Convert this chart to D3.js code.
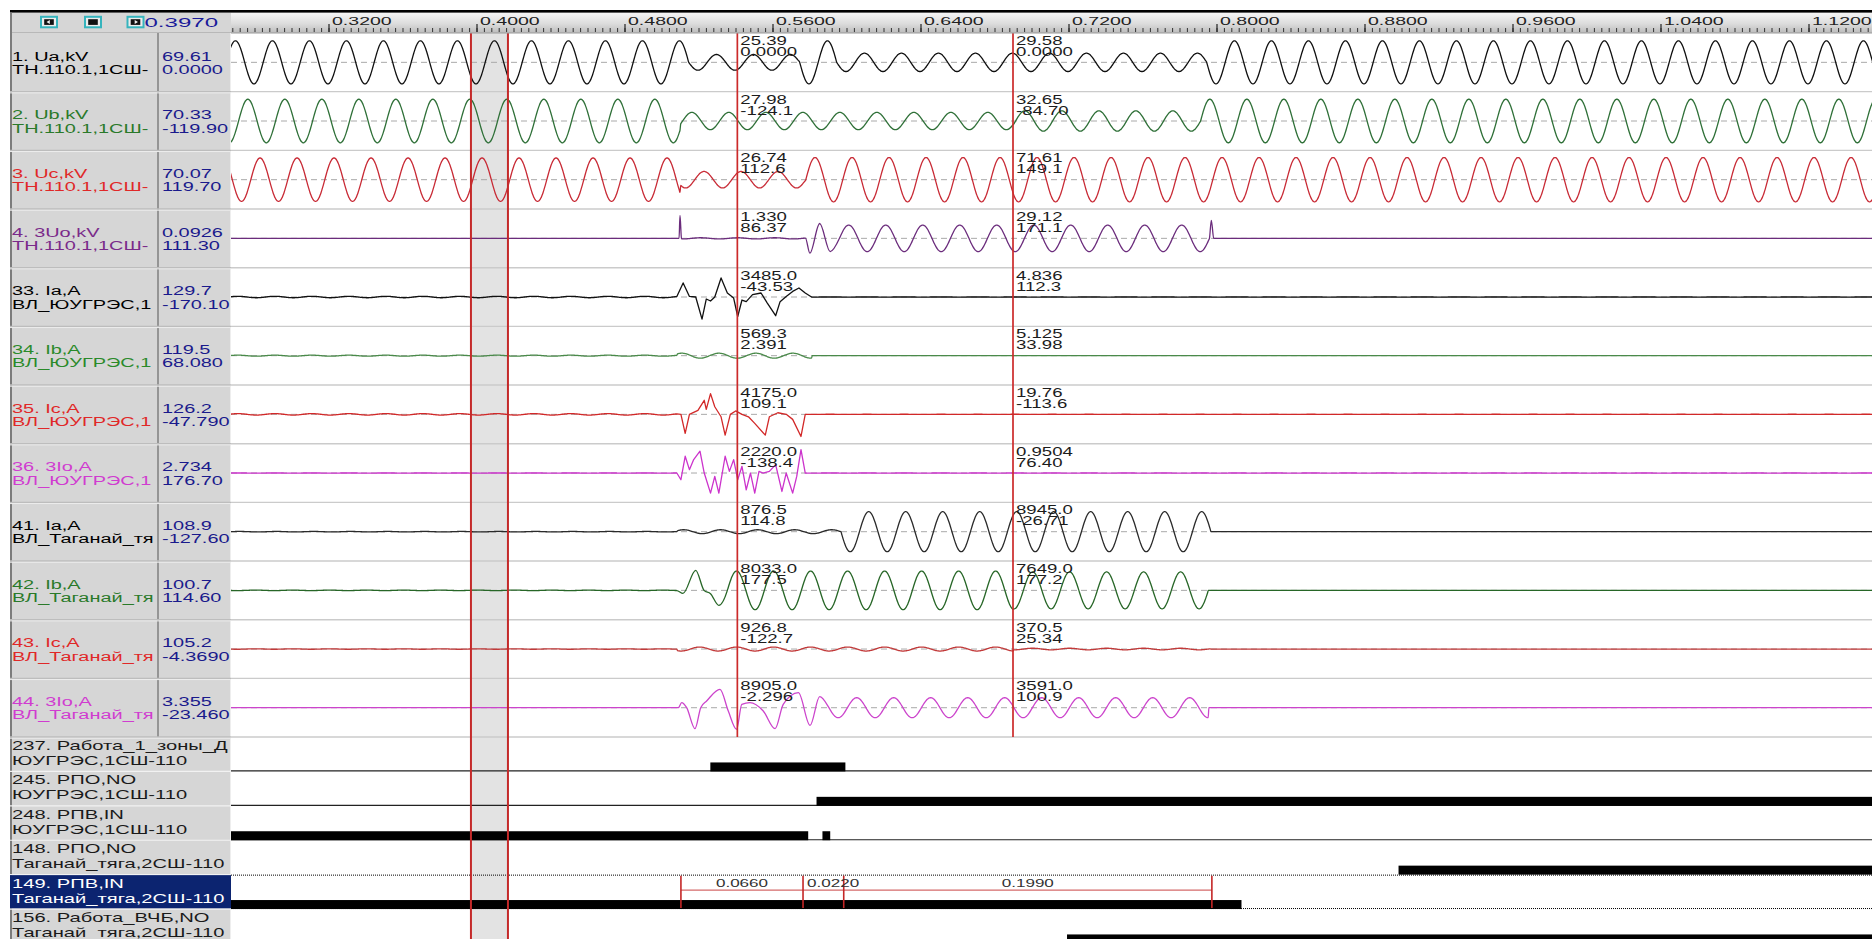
<!DOCTYPE html>
<html><head><meta charset="utf-8">
<script src="https://cdn.jsdelivr.net/npm/d3@7"></script>
<style>
html,body{margin:0;padding:0;background:#fff;overflow:hidden}
svg{display:block}
text{font-family:"Liberation Sans",Arial,sans-serif}
</style></head><body>
<svg id="osc" width="1872" height="939"></svg>
<script>
// ---------- time axis (seconds) ----------
const tickValues = [0.32, 0.40, 0.48, 0.56, 0.64, 0.72, 0.80, 0.88, 0.96, 1.04, 1.12];
const bandCursor = [0.3970, 0.4170];          // one-period RMS window
const cursorTimes = [0.5410, 0.6900];          // two measurement cursors
const measureMarks = [0.5105, 0.5765, 0.5985, 0.7975]; // interval markers on channel 149

// ---------- analog channels ----------
const channelNames = ["1. Ua,kV", "2. Ub,kV", "3. Uc,kV", "4. 3Uo,kV",
  "33. Ia,A", "34. Ib,A", "35. Ic,A", "36. 3Io,A",
  "41. Ia,A", "42. Ib,A", "43. Ic,A", "44. 3Io,A"];
const channelFeeders = ["ТН.110.1,1СШ-110", "ТН.110.1,1СШ-110", "ТН.110.1,1СШ-110", "ТН.110.1,1СШ-110",
  "ВЛ_ЮУГРЭС,1СШ-110", "ВЛ_ЮУГРЭС,1СШ-110", "ВЛ_ЮУГРЭС,1СШ-110", "ВЛ_ЮУГРЭС,1СШ-110",
  "ВЛ_Таганай_тяга,2СШ-110", "ВЛ_Таганай_тяга,2СШ-110", "ВЛ_Таганай_тяга,2СШ-110", "ВЛ_Таганай_тяга,2СШ-110"];
const panelRms   = ["69.61", "70.33", "70.07", "0.0926", "129.7", "119.5", "126.2", "2.734", "108.9", "100.7", "105.2", "3.355"];
const panelAngle = ["0.00000", "-119.90", "119.70", "111.30", "-170.10", "68.080", "-47.790", "176.70", "-127.60", "114.60", "-4.3690", "-23.460"];
const cursor1Rms   = ["25.39", "27.98", "26.74", "1.330", "3485.0", "569.3", "4175.0", "2220.0", "876.5", "8033.0", "926.8", "8905.0"];
const cursor1Angle = ["0.0000", "-124.1", "112.6", "86.37", "-43.53", "2.391", "109.1", "-138.4", "114.8", "177.5", "-122.7", "-2.296"];
const cursor2Rms   = ["29.58", "32.65", "71.61", "29.12", "4.836", "5.125", "19.76", "0.9504", "8945.0", "7649.0", "370.5", "3591.0"];
const cursor2Angle = ["0.0000", "-84.70", "149.1", "171.1", "112.3", "33.98", "-113.6", "76.40", "-26.71", "177.2", "25.34", "100.9"];

// vertical range of each channel (+/- full scale, kV or A)
const channelRange = [134, 134, 134, 91, 7300, 9400, 7300, 3500, 18500, 17200, 19200, 14900];
// time of a positive 50 Hz crest for each channel (phase reference)
const crestTime = [0.4897, 0.4964, 0.5030, 0.6212, 0.5310, 0.5310, 0.5310, 0.5310, 0.6120, 0.5606, 0.5406, 0.6055];

// steady 50 Hz stretches: [start, end, RMS]
const uaSegments  = [[0.26, 0.5147, panelRms[0]], [0.5147, 0.5747, cursor1Rms[0]], [0.5747, 0.5947, panelRms[0]], [0.5947, 0.7947, cursor2Rms[0]], [0.7947, 1.16, panelRms[0]]];
const ubSegments  = [[0.26, 0.5100, panelRms[1]], [0.5100, 0.6900, cursor1Rms[1]], [0.6900, 0.7914, cursor2Rms[1]], [0.7914, 1.16, panelRms[1]]];
const ucSegments  = [[0.26, 0.5100, panelRms[2]], [0.5100, 0.5780, cursor1Rms[2]], [0.5780, 1.16, cursor2Rms[2]]];
const uoSegments  = [[0.26, 0.5095, panelRms[3]], [0.5108, 0.5778, cursor1Rms[3]], [0.5962, 0.7962, cursor2Rms[3]], [0.7985, 1.16, panelRms[3]]];
const ia33Segments = [[0.26, 0.5083, panelRms[4]], [0.5811, 1.16, cursor2Rms[4]]];
const ib34Segments = [[0.26, 0.5083, panelRms[5]], [0.5083, 0.5811, cursor1Rms[5]], [0.5811, 1.16, cursor2Rms[5]]];
const ic35Segments = [[0.26, 0.5083, panelRms[6]], [0.5777, 1.16, cursor2Rms[6]]];
const io36Segments = [[0.26, 0.5083, panelRms[7]], [0.5777, 1.16, cursor2Rms[7]]];
const ia41Segments = [[0.26, 0.5083, panelRms[8]], [0.5083, 0.5970, cursor1Rms[8]], [0.5970, 0.7970, cursor2Rms[8]], [0.7970, 1.16, "0"]];
const ib42Segments = [[0.26, 0.5083, panelRms[9]], [0.5356, 0.6900, cursor1Rms[9]], [0.6900, 0.7956, cursor2Rms[9]], [0.7956, 1.16, "0"]];
const ic43Segments = [[0.26, 0.5083, panelRms[10]], [0.5083, 0.6900, cursor1Rms[10]], [0.6900, 0.7965, cursor2Rms[10]], [0.7965, 1.16, "0"]];
const io44Segments = [[0.26, 0.5083, panelRms[11]], [0.5905, 0.7955, cursor2Rms[11]], [0.7955, 1.16, "0"]];

// transient samples: [time, instantaneous value]
const uoTransient = [[0.5095, 0], [0.5100, 71], [0.5108, 0], [0.5778, 0], [0.5802, -46], [0.5855, 46], [0.5912, -41], [0.5962, 0],
  [0.7962, 0], [0.7972, 56], [0.7985, 0]];
const ia33Transient = [[0.5083, 0], [0.5117, 3500], [0.5151, 150], [0.5185, 0], [0.5219, -5500], [0.5242, -500], [0.5265, -1000],
  [0.5288, 0], [0.5322, 4750], [0.5356, 1000], [0.5390, -250], [0.5412, -4850], [0.5435, -750], [0.5458, -1150], [0.5492, 580],
  [0.5538, 1000], [0.5572, -1500], [0.5617, -4650], [0.5641, -1150], [0.5674, 150], [0.5709, 1400], [0.5743, 2250], [0.5777, 1000], [0.5811, 0]];
const ic35Transient = [[0.5083, 0], [0.5105, 0], [0.5128, -4750], [0.5151, 0], [0.5197, 1000], [0.5231, 3500], [0.5242, 1250],
  [0.5265, 5150], [0.5288, 1900], [0.5322, -600], [0.5344, -5170], [0.5372, 0], [0.5401, 850], [0.5435, 0], [0.5470, -600],
  [0.5504, -2250], [0.5561, -5170], [0.5583, -600], [0.5629, 400], [0.5674, 0], [0.5709, -1250], [0.5754, -5500], [0.5777, 0]];
const io36Transient = [[0.5083, 0], [0.5105, -800], [0.5128, 2000], [0.5151, 400], [0.5174, 1600], [0.5208, 2600], [0.5231, 0],
  [0.5265, -2400], [0.5288, -400], [0.5310, -2400], [0.5344, 2000], [0.5367, 200], [0.5390, 1600], [0.5412, -800], [0.5435, 800],
  [0.5458, -2000], [0.5481, 0], [0.5504, -2400], [0.5527, 200], [0.5549, 0], [0.5583, 200], [0.5617, 1000], [0.5651, -2200],
  [0.5674, 0], [0.5709, -2400], [0.5731, -400], [0.5754, 2800], [0.5777, 0]];
const ib42Transient = [[0.5083, 0], [0.5116, -1760], [0.5185, 11740], [0.5230, 0], [0.5265, -1940], [0.5310, -8800], [0.5356, 0]];
const io44Transient = [[0.5083, 0], [0.5091, 0], [0.5109, 2540], [0.5136, 0], [0.5181, -10670], [0.5212, 0], [0.5244, 3400],
  [0.5316, 9300], [0.5361, -1700], [0.5406, -11000], [0.5434, 1700], [0.5478, 2540], [0.5550, -1700], [0.5614, -10670],
  [0.5658, 1700], [0.5740, 7620], [0.5803, -8990], [0.5855, 5600], [0.5905, 0]];

// ---------- discrete channels ----------
const digitalNames = ["237. Работа_1_зоны_ДЗ", "245. РПО,NO", "248. РПВ,IN", "148. РПО,NO", "149. РПВ,IN", "156. Работа_ВЧБ,NO"];
const digitalFeeders = ["ЮУГРЭС,1СШ-110", "ЮУГРЭС,1СШ-110", "ЮУГРЭС,1СШ-110", "Таганай_тяга,2СШ-110", "Таганай_тяга,2СШ-110", "Таганай_тяга,2СШ-110"];
const digitalOn = [
  [[0.5264, 0.5994]],
  [[0.5838, 1.16]],
  [[0.26, 0.5793], [0.5870, 0.5912]],
  [[0.8984, 1.16]],
  [[0.26, 0.8135]],
  [[0.7192, 1.16]]
];
const selectedDigital = 4;

// ---------- styles ----------
const labelColors = ['#000000', '#2a7a2a', '#e02828', '#7a2a8a', '#000000', '#2a8a2a', '#e02828', '#d03cd0', '#000000', '#2a7a2a', '#e02828', '#d03cd0'];
const traceColors = ['#111111', '#2f7038', '#c82a35', '#6b2c7c', '#111111', '#4a8a4a', '#d22828', '#cc33cc', '#2a2a2a', '#276627', '#c23a3a', '#cc44cc'];
const segmentsByChannel = [uaSegments, ubSegments, ucSegments, uoSegments, ia33Segments, ib34Segments, ic35Segments, io36Segments, ia41Segments, ib42Segments, ic43Segments, io44Segments];
const transientsByChannel = [[], [], [], uoTransient, ia33Transient, [], ic35Transient, io36Transient, [], ib42Transient, [], io44Transient];
const jaggedChannels = new Set([4, 6, 7]);

// ---------- layout ----------
const W = 1872, H = 939;
const SX = 1.62;                       // horizontal text stretch of this display
const panelLeft = 10, nameRight = 158, plotLeft = 231;
const headerTop = 12.5, headerBottom = 33;
const rowH = 58.67, digH = 34.4;
const digTop = headerBottom + channelNames.length * rowH;
const FREQ = 50;

const x = d3.scaleLinear().domain([0.32, 1.12]).range([328.5, 1808.5]);

const svg = d3.select('#osc');
const defs = svg.append('defs');
const grad = defs.append('linearGradient').attr('id', 'rulerGrad').attr('x1', 0).attr('y1', 0).attr('x2', 0).attr('y2', 1);
grad.append('stop').attr('offset', '0%').attr('stop-color', '#f6f6f6');
grad.append('stop').attr('offset', '55%').attr('stop-color', '#dcdcdc');
grad.append('stop').attr('offset', '100%').attr('stop-color', '#bcbcbc');
function clip(id, x0, y0, w, h) {
  defs.append('clipPath').attr('id', id).append('rect').attr('x', x0).attr('y', y0).attr('width', w).attr('height', h);
}
clip('plotClip', plotLeft, headerBottom, W - plotLeft, H - headerBottom);
clip('rulerClip', plotLeft, 0, W - plotLeft, headerBottom + 1);

// stretched text; when maxW is given the string is shortened to stay inside its cell
function label(g, px, py, str, size, fill, sx = SX, maxW = Infinity) {
  const el = g.append('text')
    .attr('transform', `translate(${px},${py}) scale(${sx},1)`)
    .attr('font-size', size).attr('fill', fill)
    .text(str);
  if (isFinite(maxW)) {
    let s = str;
    while (s.length > 1 && el.node().getComputedTextLength() * sx > maxW) {
      s = s.slice(0, -1);
      el.text(s);
    }
  }
  return el;
}

// page background
svg.append('rect').attr('width', W).attr('height', H).attr('fill', '#ffffff');

// ---------- plot area ----------
const plot = svg.append('g').attr('clip-path', 'url(#plotClip)');
plot.append('rect').attr('x', plotLeft).attr('y', headerBottom).attr('width', W - plotLeft).attr('height', H - headerBottom).attr('fill', '#ffffff');

// RMS window band
plot.append('rect').attr('x', x(bandCursor[0])).attr('y', headerBottom)
  .attr('width', x(bandCursor[1]) - x(bandCursor[0])).attr('height', H - headerBottom).attr('fill', '#e3e3e3');

// analog row separators and zero lines
channelNames.forEach((_, i) => {
  const top = headerBottom + i * rowH;
  plot.append('line').attr('x1', plotLeft).attr('x2', W).attr('y1', top + rowH).attr('y2', top + rowH)
    .attr('stroke', '#cbcbcb').attr('stroke-width', 1.4);
  plot.append('line').attr('x1', plotLeft).attr('x2', W).attr('y1', top + rowH / 2).attr('y2', top + rowH / 2)
    .attr('stroke', '#a9a9a9').attr('stroke-width', 1).attr('stroke-dasharray', '6,4');
});

// one channel's samples from its steady 50 Hz stretches plus its transient samples
function buildTrace(i) {
  const pts = [];
  const tp = crestTime[i];
  const dt = 0.0004;
  segmentsByChannel[i].forEach(([t0, t1, rms]) => {
    const amp = +rms * Math.SQRT2;
    const n = Math.floor((t1 - t0) / dt);
    for (let k = 0; k < n; k++) {
      const t = t0 + k * dt;
      pts.push({ t, v: amp * Math.cos(2 * Math.PI * FREQ * (t - tp)), p: 1 });
    }
    const te = t1 - 1e-5;
    pts.push({ t: te, v: amp * Math.cos(2 * Math.PI * FREQ * (te - tp)), p: 1 });
  });
  transientsByChannel[i].forEach(([t, v]) => pts.push({ t, v, p: 0 }));
  pts.sort((a, b) => a.t - b.t || a.p - b.p);
  const out = [];
  pts.forEach(p => {
    if (out.length && Math.abs(p.t - out[out.length - 1].t) < 2e-5) return;
    out.push(p);
  });
  return out;
}

channelNames.forEach((_, i) => {
  const top = headerBottom + i * rowH;
  const y = d3.scaleLinear().domain([-channelRange[i], channelRange[i]]).range([top + rowH, top]);
  const line = d3.line().x(d => x(d.t)).y(d => y(d.v))
    .curve(jaggedChannels.has(i) ? d3.curveLinear : d3.curveMonotoneX);
  plot.append('path').datum(buildTrace(i)).attr('d', line)
    .attr('fill', 'none').attr('stroke', traceColors[i]).attr('stroke-width', 1.3).attr('stroke-linejoin', 'round');
});

// discrete channels: thin baseline, thick bar while the signal is on
digitalNames.forEach((_, j) => {
  const bottom = digTop + (j + 1) * digH;
  if (j !== selectedDigital && j !== selectedDigital - 1) {
    plot.append('line').attr('x1', plotLeft).attr('x2', W).attr('y1', bottom - 0.5).attr('y2', bottom - 0.5)
      .attr('stroke', '#222').attr('stroke-width', 1.2);
  }
  plot.selectAll(null).data(digitalOn[j]).enter().append('rect')
    .attr('x', d => x(d[0])).attr('y', bottom - 9)
    .attr('width', d => x(d[1]) - x(d[0])).attr('height', 9)
    .attr('fill', '#000');
});
// focus frame of the selected discrete row
[digTop + selectedDigital * digH + 0.5, digTop + (selectedDigital + 1) * digH - 0.5].forEach(yy => {
  plot.append('line').attr('x1', plotLeft).attr('x2', W).attr('y1', yy).attr('y2', yy)
    .attr('stroke', '#000').attr('stroke-width', 1).attr('stroke-dasharray', '1,1');
});

// interval markers on the selected row
{
  const top = digTop + selectedDigital * digH;
  const lineY = top + 15.5;
  plot.append('line').attr('x1', x(measureMarks[0])).attr('x2', x(measureMarks[measureMarks.length - 1]))
    .attr('y1', lineY).attr('y2', lineY).attr('stroke', '#d46a6a').attr('stroke-width', 1.3);
  measureMarks.forEach(t => {
    plot.append('line').attr('x1', x(t)).attr('x2', x(t)).attr('y1', top + 1).attr('y2', top + digH - 1)
      .attr('stroke', '#c42626').attr('stroke-width', 1.6);
  });
  const mg = plot.append('g');
  for (let k = 0; k < measureMarks.length - 1; k++) {
    const a = x(measureMarks[k]), b = x(measureMarks[k + 1]);
    const txt = d3.format('.4f')(measureMarks[k + 1] - measureMarks[k]);
    const el = label(mg, 0, 0, txt, 11, '#333', 1.55);
    const w = el.node().getComputedTextLength() * 1.55;
    const px = (w + 8 > b - a) ? a + 4 : (a + b) / 2 - w / 2;
    el.attr('transform', `translate(${px},${top + 12}) scale(1.55,1)`);
  }
}

// band edges and measurement cursors
bandCursor.forEach(t => {
  plot.append('line').attr('x1', x(t)).attr('x2', x(t)).attr('y1', headerBottom).attr('y2', H)
    .attr('stroke', '#c42a2a').attr('stroke-width', 2);
});
cursorTimes.forEach(t => {
  plot.append('line').attr('x1', x(t)).attr('x2', x(t)).attr('y1', headerBottom).attr('y2', digTop)
    .attr('stroke', '#cc2a2a').attr('stroke-width', 1.7);
});

// cursor readouts (RMS / angle)
const readouts = plot.append('g');
[[cursor1Rms, cursor1Angle], [cursor2Rms, cursor2Angle]].forEach(([rmsArr, angArr], c) => {
  const px = x(cursorTimes[c]) + 3;
  channelNames.forEach((_, i) => {
    const top = headerBottom + i * rowH;
    label(readouts, px, top + 12, rmsArr[i], 12, '#1c1c1c', 1.55);
    label(readouts, px, top + 23, angArr[i], 12, '#1c1c1c', 1.55);
  });
});

// ---------- header / ruler ----------
svg.append('rect').attr('x', panelLeft).attr('y', headerTop).attr('width', W - panelLeft).attr('height', headerBottom - headerTop).attr('fill', '#d6d6d6');
svg.append('rect').attr('x', plotLeft).attr('y', headerTop).attr('width', W - plotLeft).attr('height', headerBottom - headerTop).attr('fill', 'url(#rulerGrad)');
svg.append('rect').attr('x', panelLeft).attr('y', 10).attr('width', W - panelLeft).attr('height', 2.6).attr('fill', '#000');

const ruler = svg.append('g').attr('clip-path', 'url(#rulerClip)');
const minorTicks = d3.range(67, 289).map(k => k * 0.004);
ruler.append('g').attr('transform', `translate(0,${headerBottom - 1})`)
  .call(d3.axisTop(x).tickValues(minorTicks).tickSize(4).tickFormat(''))
  .call(g => g.select('.domain').remove())
  .call(g => g.selectAll('line').attr('stroke', '#333').attr('stroke-width', 1));
ruler.append('g').attr('transform', `translate(0,${headerBottom - 1})`)
  .call(d3.axisTop(x).tickValues(tickValues).tickSize(8).tickFormat(d3.format('.4f')))
  .call(g => g.select('.domain').remove())
  .call(g => g.selectAll('line').attr('stroke', '#222').attr('stroke-width', 1.2))
  .call(g => g.selectAll('text')
    .attr('x', null).attr('y', null).attr('dy', null)
    .attr('text-anchor', 'start').attr('fill', '#222')
    .attr('font-size', 11.5).attr('font-family', '"Liberation Sans",Arial,sans-serif')
    .attr('transform', `translate(3,-7) scale(1.7,1)`));
svg.append('line').attr('x1', panelLeft).attr('x2', W).attr('y1', headerBottom).attr('y2', headerBottom)
  .attr('stroke', '#9a9a9a').attr('stroke-width', 1);

// header buttons
const buttons = [[41, 'prev'], [85, 'stop'], [127.5, 'next']];
buttons.forEach(([bx, kind]) => {
  const g = svg.append('g').attr('transform', `translate(${bx},16.8)`);
  g.append('rect').attr('width', 16).attr('height', 10.5).attr('fill', '#ececec')
    .attr('stroke', '#36b4bd').attr('stroke-width', 2);
  g.append('rect').attr('x', 3.2).attr('y', 2.4).attr('width', 9.6).attr('height', 5.7).attr('fill', '#111');
  if (kind === 'prev') {
    g.append('path').attr('d', 'M5.5,5.25 L8.8,3.3 L8.8,7.2 Z').attr('fill', '#f0f0f0');
  } else if (kind === 'next') {
    g.append('path').attr('d', 'M7.2,3.3 L10.5,5.25 L7.2,7.2 Z').attr('fill', '#f0f0f0');
  }
});
label(svg, 144.5, 27.3, d3.format('.4f')(bandCursor[0]), 13, '#1a1a9a', 1.85);

// ---------- left panel ----------
const panel = svg.append('g');
panel.append('rect').attr('x', panelLeft).attr('y', headerBottom).attr('width', plotLeft - panelLeft).attr('height', H - headerBottom).attr('fill', '#d6d6d6');
panel.append('line').attr('x1', nameRight).attr('x2', nameRight).attr('y1', headerBottom).attr('y2', digTop)
  .attr('stroke', '#858585').attr('stroke-width', 1.6);
panel.append('line').attr('x1', panelLeft + 1).attr('x2', panelLeft + 1).attr('y1', headerTop).attr('y2', H)
  .attr('stroke', '#7c7c7c').attr('stroke-width', 2);
panel.append('line').attr('x1', plotLeft - 0.5).attr('x2', plotLeft - 0.5).attr('y1', headerBottom).attr('y2', H)
  .attr('stroke', '#eeeeee').attr('stroke-width', 1);

channelNames.forEach((_, i) => {
  const top = headerBottom + i * rowH;
  panel.append('line').attr('x1', panelLeft).attr('x2', plotLeft).attr('y1', top + rowH).attr('y2', top + rowH)
    .attr('stroke', '#bdbdbd').attr('stroke-width', 1.4);
  panel.append('line').attr('x1', panelLeft).attr('x2', plotLeft).attr('y1', top + rowH + 1.2).attr('y2', top + rowH + 1.2)
    .attr('stroke', '#ededed').attr('stroke-width', 1);
});
channelNames.forEach((name, i) => {
  const top = headerBottom + i * rowH;
  label(panel, 12, top + 27.5, name, 12.3, labelColors[i], SX, nameRight - 13);
  label(panel, 12, top + 41, channelFeeders[i], 12.3, labelColors[i], SX, nameRight - 13);
  label(panel, 162, top + 27.5, panelRms[i], 12.3, '#1a1a8c', SX, plotLeft - 162);
  label(panel, 162, top + 41, panelAngle[i], 12.3, '#1a1a8c', SX, plotLeft - 162);
});

// discrete channel labels
digitalNames.forEach((name, j) => {
  const top = digTop + j * digH;
  if (j === selectedDigital) {
    panel.append('rect').attr('x', panelLeft).attr('y', top + 0.5).attr('width', plotLeft - panelLeft).attr('height', digH - 1).attr('fill', '#0c2470');
  }
  panel.append('line').attr('x1', panelLeft).attr('x2', plotLeft).attr('y1', top + digH).attr('y2', top + digH)
    .attr('stroke', '#f2f2f2').attr('stroke-width', 1.2);
  const fill = j === selectedDigital ? '#ffffff' : '#1a1a1a';
  label(panel, 12, top + 13, name, 12.3, fill, 1.64, plotLeft - 12);
  label(panel, 12, top + 28, digitalFeeders[j], 12.3, fill, 1.64, plotLeft - 12);
});
</script>
</body></html>
